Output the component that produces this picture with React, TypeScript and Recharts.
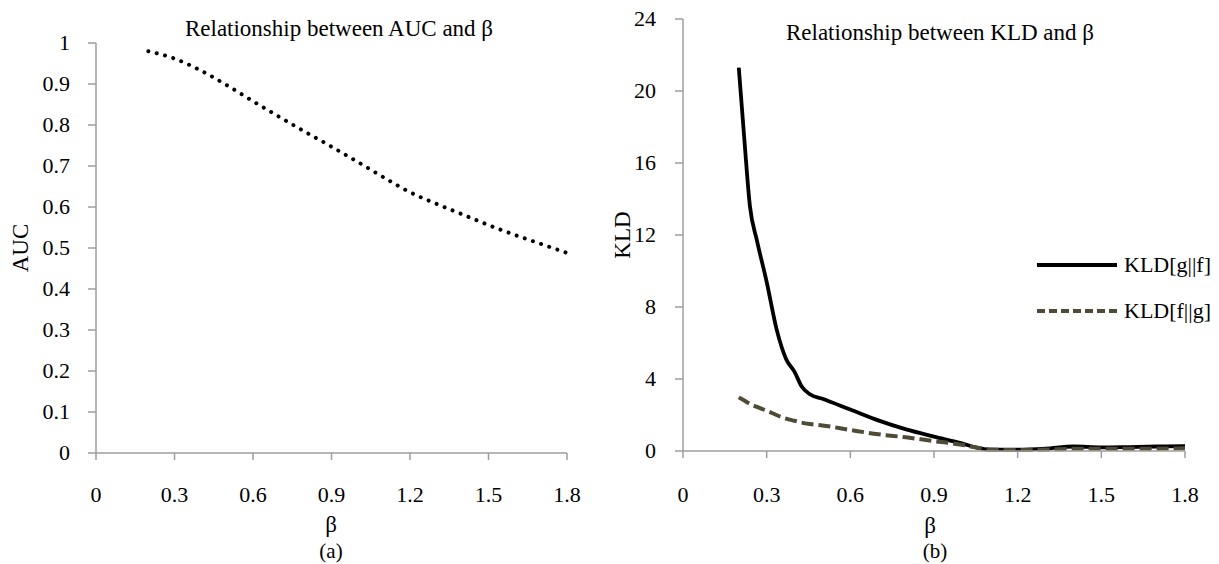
import React from "react";
import { LineChart, Line, XAxis, YAxis, Legend } from "recharts";

// left panel: AUC vs beta
const betaAuc = [0.2, 0.3, 0.4, 0.5, 0.6, 0.7, 0.8, 0.9, 1.0, 1.1, 1.2, 1.3, 1.4, 1.5, 1.6, 1.7, 1.8];
const aucValues = [0.98, 0.962, 0.933, 0.897, 0.858, 0.82, 0.783, 0.747, 0.71, 0.672, 0.636, 0.608, 0.582, 0.556, 0.532, 0.51, 0.488];

// right panel: KLD vs beta
const betaKld = [0.2, 0.22, 0.24, 0.265, 0.3, 0.335, 0.37, 0.4, 0.425, 0.455, 0.5, 0.6, 0.7, 0.8, 0.9, 1.0, 1.05, 1.1, 1.2, 1.3, 1.4, 1.5, 1.6, 1.7, 1.8];
const kldGF = [21.3, 17.3, 13.6, 11.7, 9.4, 6.8, 5.1, 4.4, 3.6, 3.15, 2.9, 2.3, 1.7, 1.2, 0.8, 0.42, 0.2, 0.08, 0.07, 0.13, 0.25, 0.2, 0.22, 0.25, 0.27];
const kldFG = [2.98, 2.8, 2.62, 2.45, 2.24, 2.0, 1.8, 1.68, 1.58, 1.5, 1.42, 1.17, 0.93, 0.76, 0.55, 0.35, 0.2, 0.08, 0.05, 0.08, 0.12, 0.12, 0.12, 0.13, 0.15];

const betaTicks = [0, 0.3, 0.6, 0.9, 1.2, 1.5, 1.8];
const aucTicks = [0, 0.1, 0.2, 0.3, 0.4, 0.5, 0.6, 0.7, 0.8, 0.9, 1];
const kldTicks = [0, 4, 8, 12, 16, 20, 24];

const aucData = betaAuc.map((b, i) => ({ beta: b, auc: aucValues[i] }));
const kldData = betaKld.map((b, i) => ({ beta: b, gf: kldGF[i], fg: kldFG[i] }));

const serif = '"Liberation Serif", "Times New Roman", serif';
const axisGray = "#9e9e9e";
const dashColor = "#4f4b37";

const legendOrder = ["gf", "fg"];
const legendDash: Record<string, string | undefined> = { gf: undefined, fg: "8 4" };

const XTick = (props: any) => (
  <text
    x={props.x}
    y={props.y}
    dy="0.71em"
    textAnchor="middle"
    fill="#000"
    style={{ fontFamily: serif, fontSize: 22 }}
  >
    {props.payload.value}
  </text>
);

const YTick = (props: any) => (
  <text
    x={props.x}
    y={props.y}
    dy="0.34em"
    textAnchor="end"
    fill="#000"
    style={{ fontFamily: serif, fontSize: 22 }}
  >
    {props.payload.value}
  </text>
);

const renderLegend = (props: any) => {
  const items = [...(props.payload || [])].sort(
    (a: any, b: any) => legendOrder.indexOf(a.dataKey) - legendOrder.indexOf(b.dataKey)
  );
  return (
    <div>
      {items.map((entry: any) => (
        <div key={entry.dataKey} style={{ display: "flex", alignItems: "center", height: 46 }}>
          <svg width={80} height={10}>
            <line
              x1={0}
              y1={5}
              x2={80}
              y2={5}
              stroke={entry.color}
              strokeWidth={4}
              strokeDasharray={legendDash[entry.dataKey]}
            />
          </svg>
          <span style={{ marginLeft: 7, fontSize: 22, fontFamily: serif, color: "#000", lineHeight: 1 }}>
            {entry.value}
          </span>
        </div>
      ))}
    </div>
  );
};

function Label({ x, y, text, size = 22, rotate = false }: { x: number; y: number; text: string; size?: number; rotate?: boolean }) {
  return (
    <div
      style={{
        position: "absolute",
        left: x,
        top: y,
        transform: `translate(-50%, -50%)${rotate ? " rotate(-90deg)" : ""}`,
        fontFamily: serif,
        fontSize: size,
        lineHeight: 1,
        whiteSpace: "nowrap",
        color: "#000",
      }}
    >
      {text}
    </div>
  );
}

export default function App() {
  return (
    <div
      style={{
        position: "absolute",
        left: 0,
        top: 0,
        width: 1219,
        height: 564,
        background: "#fff",
        fontFamily: serif,
        overflow: "hidden",
      }}
    >
      <div style={{ position: "absolute", left: 0, top: 0 }}>
        <LineChart width={600} height={564} data={aucData} margin={{ top: 43, right: 33, bottom: 0, left: 0 }}>
          <XAxis
            dataKey="beta"
            type="number"
            domain={[0, 1.8]}
            ticks={betaTicks}
            height={111}
            tickSize={7}
            tickMargin={26}
            tick={<XTick />}
            axisLine={{ stroke: axisGray, strokeWidth: 1.5 }}
            tickLine={{ stroke: axisGray, strokeWidth: 1.5 }}
            interval={0}
          />
          <YAxis
            type="number"
            domain={[0, 1]}
            ticks={aucTicks}
            width={96}
            tickSize={8}
            tickMargin={18}
            tick={<YTick />}
            axisLine={{ stroke: axisGray, strokeWidth: 1.5 }}
            tickLine={{ stroke: axisGray, strokeWidth: 1.5 }}
            interval={0}
          />
          <Line
            dataKey="auc"
            type="monotone"
            stroke="#000"
            strokeWidth={4}
            strokeDasharray="0.01 8.6"
            strokeLinecap="round"
            dot={false}
            isAnimationActive={false}
          />
        </LineChart>
      </div>

      <div style={{ position: "absolute", left: 600, top: 0 }}>
        <LineChart width={619} height={564} data={kldData} margin={{ top: 19, right: 34, bottom: 0, left: 0 }}>
          <XAxis
            dataKey="beta"
            type="number"
            domain={[0, 1.8]}
            ticks={betaTicks}
            height={113}
            tickSize={7}
            tickMargin={28}
            tick={<XTick />}
            axisLine={{ stroke: axisGray, strokeWidth: 1.5 }}
            tickLine={{ stroke: axisGray, strokeWidth: 1.5 }}
            interval={0}
          />
          <YAxis
            type="number"
            domain={[0, 24]}
            ticks={kldTicks}
            width={83}
            tickSize={8}
            tickMargin={19}
            tick={<YTick />}
            axisLine={{ stroke: axisGray, strokeWidth: 1.5 }}
            tickLine={{ stroke: axisGray, strokeWidth: 1.5 }}
            interval={0}
          />
          <Legend
            layout="vertical"
            align="center"
            verticalAlign="middle"
            content={renderLegend}
            wrapperStyle={{ left: 437, top: 242, width: 182 }}
          />
          <Line
            name="KLD[g||f]"
            dataKey="gf"
            type="monotone"
            stroke="#000"
            strokeWidth={3.8}
            dot={false}
            isAnimationActive={false}
          />
          <Line
            name="KLD[f||g]"
            dataKey="fg"
            type="monotone"
            stroke={dashColor}
            strokeWidth={4}
            strokeDasharray="12 5"
            dot={false}
            isAnimationActive={false}
          />
        </LineChart>
      </div>

      <Label x={339} y={28} text="Relationship between AUC and β" size={23} />
      <Label x={940} y={32} text="Relationship between KLD and β" size={23} />
      <Label x={20} y={248} text="AUC" size={23} rotate />
      <Label x={622} y={235} text="KLD" size={23} rotate />
      <Label x={331} y={524} text="β" size={23} />
      <Label x={930} y={525} text="β" size={23} />
      <Label x={331} y={551} text="(a)" size={21} />
      <Label x={935} y={551} text="(b)" size={21} />
    </div>
  );
}
